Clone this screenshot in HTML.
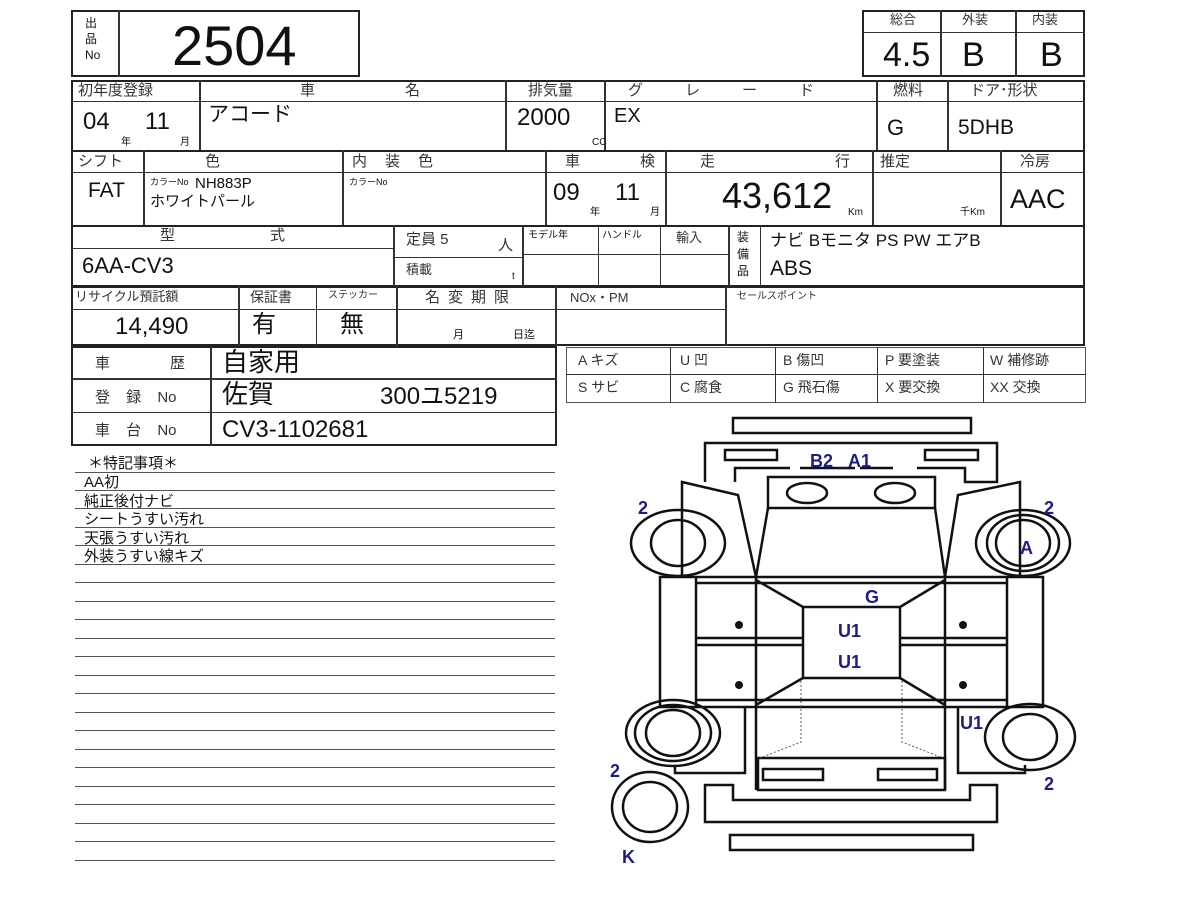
<!DOCTYPE html>
<html><head><meta charset="utf-8"><style>
body{margin:0;width:1200px;height:900px;background:#fff;position:relative;overflow:hidden;font-family:"Liberation Sans","Noto Sans CJK JP",sans-serif;color:#111}
.b{position:absolute;border:2px solid #222;box-sizing:border-box}
.l{position:absolute;background:#333}
.t{position:absolute;white-space:nowrap;line-height:1}
.h{font-size:15px;color:#333}
.v{font-size:24px}
.s{font-size:10px}
.n{position:absolute;left:75px;width:480px;height:1px;background:#555}
</style></head><body>
<!-- top no box -->
<div class="b" style="left:71px;top:10px;width:289px;height:67px"></div>
<div class="l" style="left:118px;top:10px;width:2px;height:67px"></div>
<div class="t" style="left:85px;top:15px;font-size:12px;line-height:16px">出<br>品<br>No</div>
<div class="t" style="left:172px;top:18px;font-size:56px">2504</div>
<!-- rating -->
<div class="b" style="left:862px;top:10px;width:223px;height:67px"></div>
<div class="l" style="left:940px;top:10px;width:2px;height:67px"></div>
<div class="l" style="left:1015px;top:10px;width:2px;height:67px"></div>
<div class="l" style="left:862px;top:32px;width:223px;height:1px"></div>
<div class="t h" style="left:890px;top:13px;font-size:13px">総合</div>
<div class="t h" style="left:962px;top:13px;font-size:13px">外装</div>
<div class="t h" style="left:1032px;top:13px;font-size:13px">内装</div>
<div class="t" style="left:883px;top:38px;font-size:34px">4.5</div>
<div class="t" style="left:962px;top:38px;font-size:34px">B</div>
<div class="t" style="left:1040px;top:38px;font-size:34px">B</div>
<!-- row1 -->
<div class="b" style="left:71px;top:80px;width:1014px;height:72px"></div>
<div class="l" style="left:71px;top:101px;width:1014px;height:1px"></div>
<div class="l" style="left:199px;top:80px;width:2px;height:72px"></div>
<div class="l" style="left:505px;top:80px;width:2px;height:72px"></div>
<div class="l" style="left:604px;top:80px;width:2px;height:72px"></div>
<div class="l" style="left:876px;top:80px;width:2px;height:72px"></div>
<div class="l" style="left:947px;top:80px;width:2px;height:72px"></div>
<div class="t h" style="left:78px;top:83px">初年度登録</div>
<div class="t h" style="left:300px;top:83px">車</div><div class="t h" style="left:405px;top:83px">名</div>
<div class="t h" style="left:528px;top:83px">排気量</div>
<div class="t h" style="left:628px;top:83px;letter-spacing:42px">グレード</div>
<div class="t h" style="left:893px;top:83px">燃料</div>
<div class="t h" style="left:970px;top:83px">ドア･形状</div>
<div class="t v" style="left:83px;top:110px">04</div><div class="t s" style="left:121px;top:138px">年</div>
<div class="t v" style="left:145px;top:110px">11</div><div class="t s" style="left:180px;top:138px">月</div>
<div class="t v" style="left:208px;top:104px;font-size:21px">アコード</div>
<div class="t v" style="left:517px;top:106px">2000</div><div class="t s" style="left:592px;top:138px">CC</div>
<div class="t" style="left:614px;top:106px;font-size:20px">EX</div>
<div class="t" style="left:887px;top:117px;font-size:22px">G</div>
<div class="t" style="left:958px;top:117px;font-size:21px">5DHB</div>
<!-- row2 -->
<div class="b" style="left:71px;top:150px;width:1014px;height:77px"></div>
<div class="l" style="left:71px;top:172px;width:1014px;height:1px"></div>
<div class="l" style="left:143px;top:150px;width:2px;height:77px"></div>
<div class="l" style="left:342px;top:150px;width:2px;height:77px"></div>
<div class="l" style="left:545px;top:150px;width:2px;height:77px"></div>
<div class="l" style="left:665px;top:150px;width:2px;height:77px"></div>
<div class="l" style="left:872px;top:150px;width:2px;height:77px"></div>
<div class="l" style="left:1000px;top:150px;width:2px;height:77px"></div>
<div class="t h" style="left:78px;top:154px">シフト</div>
<div class="t h" style="left:205px;top:154px">色</div>
<div class="t h" style="left:352px;top:154px;letter-spacing:18px">内装色</div>
<div class="t h" style="left:565px;top:154px">車</div><div class="t h" style="left:640px;top:154px">検</div>
<div class="t h" style="left:700px;top:154px">走</div><div class="t h" style="left:835px;top:154px">行</div>
<div class="t h" style="left:880px;top:154px">推定</div>
<div class="t h" style="left:1020px;top:154px">冷房</div>
<div class="t" style="left:88px;top:180px;font-size:21px">FAT</div>
<div class="t" style="left:150px;top:178px;font-size:9px">カラーNo</div>
<div class="t" style="left:195px;top:176px;font-size:15px">NH883P</div>
<div class="t" style="left:150px;top:194px;font-size:15px">ホワイトパール</div>
<div class="t" style="left:349px;top:178px;font-size:9px">カラーNo</div>
<div class="t v" style="left:553px;top:181px">09</div><div class="t s" style="left:590px;top:208px">年</div>
<div class="t v" style="left:615px;top:181px">11</div><div class="t s" style="left:650px;top:208px">月</div>
<div class="t" style="left:722px;top:178px;font-size:36px">43,612</div><div class="t s" style="left:848px;top:208px">Km</div>
<div class="t s" style="left:960px;top:208px">千Km</div>
<div class="t" style="left:1010px;top:186px;font-size:27px">AAC</div>
<!-- row3 -->
<div class="b" style="left:71px;top:225px;width:1014px;height:62px"></div>
<div class="l" style="left:71px;top:248px;width:322px;height:1px"></div>
<div class="l" style="left:393px;top:225px;width:2px;height:62px"></div>
<div class="l" style="left:393px;top:257px;width:129px;height:1px"></div>
<div class="l" style="left:522px;top:225px;width:2px;height:62px"></div>
<div class="l" style="left:522px;top:254px;width:206px;height:1px"></div>
<div class="l" style="left:598px;top:225px;width:1px;height:62px"></div>
<div class="l" style="left:660px;top:225px;width:1px;height:62px"></div>
<div class="l" style="left:728px;top:225px;width:2px;height:62px"></div>
<div class="l" style="left:760px;top:225px;width:1px;height:62px"></div>
<div class="t h" style="left:160px;top:228px">型</div><div class="t h" style="left:270px;top:228px">式</div>
<div class="t" style="left:82px;top:255px;font-size:22px">6AA-CV3</div>
<div class="t h" style="left:406px;top:232px">定員 5</div><div class="t h" style="left:498px;top:238px">人</div>
<div class="t h" style="left:406px;top:263px;font-size:13px">積載</div><div class="t s" style="left:512px;top:272px">t</div>
<div class="t" style="left:528px;top:231px;font-size:10px">モデル年</div>
<div class="t" style="left:602px;top:231px;font-size:10px">ハンドル</div>
<div class="t h" style="left:676px;top:231px;font-size:13px">輸入</div>
<div class="t" style="left:737px;top:229px;font-size:12px;line-height:17px">装<br>備<br>品</div>
<div class="t" style="left:770px;top:232px;font-size:17px">ナビ Bモニタ PS PW エアB</div>
<div class="t" style="left:770px;top:258px;font-size:21px">ABS</div>
<!-- row4 -->
<div class="b" style="left:71px;top:286px;width:1014px;height:60px"></div>
<div class="l" style="left:71px;top:309px;width:654px;height:1px"></div>
<div class="l" style="left:238px;top:286px;width:2px;height:60px"></div>
<div class="l" style="left:316px;top:286px;width:1px;height:60px"></div>
<div class="l" style="left:396px;top:286px;width:2px;height:60px"></div>
<div class="l" style="left:555px;top:286px;width:2px;height:60px"></div>
<div class="l" style="left:725px;top:286px;width:2px;height:60px"></div>
<div class="t h" style="left:75px;top:290px;font-size:13px">リサイクル預託額</div>
<div class="t h" style="left:250px;top:290px;font-size:14px">保証書</div>
<div class="t h" style="left:328px;top:291px;font-size:10px">ステッカー</div>
<div class="t h" style="left:425px;top:290px;letter-spacing:8px">名変期限</div>
<div class="t h" style="left:570px;top:291px;font-size:13px">NOx・PM</div>
<div class="t h" style="left:737px;top:292px;font-size:10px">セールスポイント</div>
<div class="t v" style="left:115px;top:315px">14,490</div>
<div class="t v" style="left:252px;top:313px">有</div>
<div class="t v" style="left:340px;top:313px">無</div>
<div class="t s" style="left:453px;top:330px;font-size:11px">月</div><div class="t s" style="left:513px;top:330px;font-size:11px">日迄</div>
<!-- history -->
<div class="b" style="left:71px;top:346px;width:486px;height:100px"></div>
<div class="l" style="left:210px;top:346px;width:2px;height:100px"></div>
<div class="l" style="left:71px;top:378px;width:486px;height:2px"></div>
<div class="l" style="left:71px;top:412px;width:486px;height:1px"></div>
<div class="t h" style="left:95px;top:356px">車</div><div class="t h" style="left:170px;top:356px">歴</div>
<div class="t" style="left:222px;top:349px;font-size:26px">自家用</div>
<div class="t h" style="left:95px;top:390px;word-spacing:12px">登 録 No</div>
<div class="t" style="left:222px;top:381px;font-size:26px">佐賀</div>
<div class="t v" style="left:380px;top:385px">300ユ5219</div>
<div class="t h" style="left:95px;top:423px;word-spacing:12px">車 台 No</div>
<div class="t v" style="left:222px;top:418px">CV3-1102681</div>
<!-- legend -->
<div class="b" style="left:566px;top:347px;width:520px;height:56px;border-width:1px;border-color:#555"></div>
<div class="l" style="left:566px;top:374px;width:520px;height:1px"></div>
<div class="l" style="left:670px;top:347px;width:1px;height:56px"></div>
<div class="l" style="left:775px;top:347px;width:1px;height:56px"></div>
<div class="l" style="left:877px;top:347px;width:1px;height:56px"></div>
<div class="l" style="left:983px;top:347px;width:1px;height:56px"></div>
<div class="t h" style="left:578px;top:353px;font-size:14px">A キズ</div>
<div class="t h" style="left:680px;top:353px;font-size:14px">U 凹</div>
<div class="t h" style="left:783px;top:353px;font-size:14px">B 傷凹</div>
<div class="t h" style="left:885px;top:353px;font-size:14px">P 要塗装</div>
<div class="t h" style="left:990px;top:353px;font-size:14px">W 補修跡</div>
<div class="t h" style="left:578px;top:380px;font-size:14px">S サビ</div>
<div class="t h" style="left:680px;top:380px;font-size:14px">C 腐食</div>
<div class="t h" style="left:783px;top:380px;font-size:14px">G 飛石傷</div>
<div class="t h" style="left:885px;top:380px;font-size:14px">X 要交換</div>
<div class="t h" style="left:990px;top:380px;font-size:14px">XX 交換</div>
<!-- notes -->
<div class="t" style="left:88px;top:456px;font-size:15px">＊特記事項＊</div>
<div class="t" style="left:84px;top:474px;font-size:15px;line-height:18.5px">AA初<br>純正後付ナビ<br>シートうすい汚れ<br>天張うすい汚れ<br>外装うすい線キズ</div>
<div class="n" style="top:472px"></div><div class="n" style="top:490px"></div><div class="n" style="top:508px"></div><div class="n" style="top:527px"></div><div class="n" style="top:545px"></div><div class="n" style="top:564px"></div><div class="n" style="top:582px"></div><div class="n" style="top:601px"></div><div class="n" style="top:619px"></div><div class="n" style="top:638px"></div><div class="n" style="top:656px"></div><div class="n" style="top:675px"></div><div class="n" style="top:693px"></div><div class="n" style="top:712px"></div><div class="n" style="top:730px"></div><div class="n" style="top:749px"></div><div class="n" style="top:767px"></div><div class="n" style="top:786px"></div><div class="n" style="top:804px"></div><div class="n" style="top:823px"></div><div class="n" style="top:841px"></div><div class="n" style="top:860px"></div>
<!-- car -->
<svg style="position:absolute;left:0;top:0" width="1200" height="900">
<g fill="none" stroke="#111" stroke-width="2.5">
<rect x="733" y="418" width="238" height="15"/>
<path d="M705 482 V443 H997 V482 H965 V468 H917 M893 468 H860 M855 468 H800 M790 468 H735 V482"/>
<rect x="725" y="450" width="52" height="10"/><rect x="925" y="450" width="53" height="10"/>
<rect x="768" y="477" width="167" height="31"/>
<ellipse cx="807" cy="493" rx="20" ry="10"/><ellipse cx="895" cy="493" rx="20" ry="10"/>
<path d="M768 508 L756 577 M935 508 L945 577"/>
<path d="M682 577 V482 L738 495 L756 577"/><path d="M1020 577 V482 L958 495 L945 577"/>
<rect x="660" y="577" width="383" height="130"/>
<path d="M696 577 V707 M756 577 V790 M945 577 V790 M1007 577 V707"/>
<path d="M696 583 H1007 M696 638 H803 M900 638 H1007 M696 645 H803 M900 645 H1007 M696 700 H1007"/>
<rect x="803" y="607" width="97" height="71"/>
<path d="M756 580 L803 607 M945 580 L900 607 M756 705 L803 678 M945 705 L900 678"/>
<path d="M745 707 L745 773 L675 773 V765 M958 707 V773 L1025 773 V765"/>
<rect x="758" y="758" width="187" height="32"/>
<rect x="763" y="769" width="60" height="11"/><rect x="878" y="769" width="59" height="11"/>
<path d="M705 785 H733 V800 H970 V785 H997 V822 H705 Z"/>
<rect x="730" y="835" width="243" height="15"/>
<ellipse cx="678" cy="543" rx="47" ry="33"/><ellipse cx="678" cy="543" rx="27" ry="23"/>
<ellipse cx="1023" cy="543" rx="47" ry="33"/><ellipse cx="1023" cy="543" rx="27" ry="23"/><ellipse cx="1023" cy="543" rx="36" ry="28"/>
<ellipse cx="673" cy="733" rx="47" ry="33"/><ellipse cx="673" cy="733" rx="27" ry="23"/><ellipse cx="673" cy="733" rx="38" ry="28"/>
<ellipse cx="1030" cy="737" rx="45" ry="33"/><ellipse cx="1030" cy="737" rx="27" ry="23"/>
<ellipse cx="650" cy="807" rx="38" ry="35"/><ellipse cx="650" cy="807" rx="27" ry="25"/>
</g>
<g stroke="#555" stroke-width="1" stroke-dasharray="2 2" fill="none"><path d="M801 681 V742 L760 758 M902 681 V742 L943 758"/></g>
<g fill="#111"><circle cx="739" cy="625" r="4"/><circle cx="739" cy="685" r="4"/><circle cx="963" cy="625" r="4"/><circle cx="963" cy="685" r="4"/></g>
<g fill="#1c1c8a" font-family="Liberation Sans,sans-serif" font-weight="bold" font-size="18">
<text x="810" y="467">B2 _A1</text><text x="638" y="514">2</text><text x="1044" y="514">2</text>
<text x="1020" y="554">A</text><text x="865" y="603">G</text><text x="838" y="637">U1</text><text x="838" y="668">U1</text>
<text x="960" y="729">U1</text><text x="610" y="777">2</text><text x="1044" y="790">2</text><text x="622" y="863">K</text>
</g>
</svg>
</body></html>
